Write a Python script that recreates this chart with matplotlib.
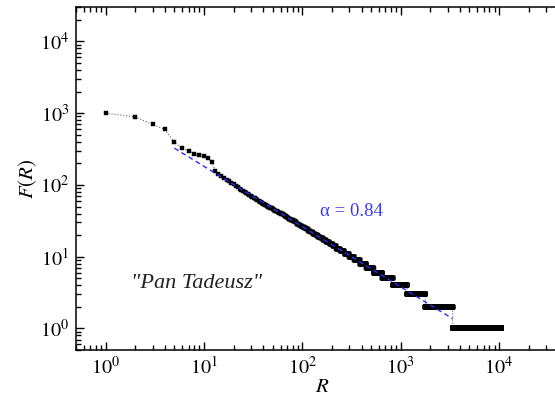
import numpy as np
import matplotlib
matplotlib.use("Agg")
import matplotlib.pyplot as plt
from matplotlib.ticker import LogLocator, FuncFormatter, NullFormatter

plt.rcParams['mathtext.fontset'] = 'stix'
plt.rcParams['font.family'] = ['Liberation Serif', 'DejaVu Serif']

# Word frequencies of the most frequent words, rank 1..60
head_freq = [1000, 889, 697, 594, 392, 324, 300, 269, 261, 253,
             234, 211, 155, 142, 133, 125, 118, 112, 107, 102,
             97, 93, 89, 86, 83, 80, 77, 75, 72, 70,
             68, 66, 65, 63, 61, 60, 58, 57, 56, 55,
             54, 53, 52, 51, 50, 49, 48, 48, 47, 46,
             45, 45, 44, 43, 43, 42, 42, 41, 41, 41]

# Remaining words: frequency level and how many words share it
tail_freq = [40, 39, 38, 37, 36, 35, 34, 33, 32, 31,
             30, 29, 28, 27, 26, 25, 24, 23, 22, 21,
             20, 19, 18, 17, 16, 15, 14, 13, 12, 11,
             10, 9, 8, 7, 6, 5, 4, 3, 2, 1]
tail_count = [2, 2, 1, 3, 2, 2, 3, 3, 2, 4,
              3, 4, 4, 4, 5, 5, 5, 6, 7, 8,
              8, 9, 10, 12, 14, 15, 18, 22, 25, 31,
              38, 48, 62, 83, 120, 180, 330, 620, 1590, 7130]

# Power-law fit F(R) ~ R^-alpha
alpha = 0.84
fit_log_c = 3.10
fit_range = [5, 3370]

freq = np.concatenate([np.array(head_freq, float),
                       np.repeat(np.array(tail_freq, float), tail_count)])
rank = np.arange(1, len(freq) + 1)

W, H = 555, 401
fig = plt.figure(figsize=(W / 100, H / 100), dpi=100)
ax = fig.add_axes([0.137, 0.127, 0.886, 0.855])

ax.plot(rank, freq, linestyle=':', color='#666666', linewidth=0.8,
        marker='s', markersize=2.4, markerfacecolor='black',
        markeredgecolor='black', markeredgewidth=0.3, zorder=2)

rf = np.geomspace(fit_range[0], fit_range[1], 200)
ax.plot(rf, 10 ** fit_log_c * rf ** (-alpha), color='#2b2bff',
        linewidth=1.0, dashes=(3.5, 2.5), zorder=3)

ax.set_xscale('log')
ax.set_yscale('log')
ax.set_xlim(0.5, 5e4)
ax.set_ylim(0.5, 3e4)

def pow10(v, pos):
    e = int(round(np.log10(v)))
    return r'$10^{%d}$' % e

for axis in (ax.xaxis, ax.yaxis):
    axis.set_major_locator(LogLocator(base=10, numticks=20))
    axis.set_minor_locator(LogLocator(base=10, subs=np.arange(2, 10), numticks=20))
    axis.set_major_formatter(FuncFormatter(pow10))
    axis.set_minor_formatter(NullFormatter())

ax.tick_params(which='both', direction='in', top=True, right=True,
               width=1.0, labelsize=14.5, pad=5)
ax.tick_params(which='major', length=6)
ax.tick_params(which='minor', length=3.5)
for s in ax.spines.values():
    s.set_linewidth(1.1)

ax.set_xlabel(r'$R$', fontsize=15, labelpad=-1)
ax.set_ylabel(r'$F(R)$', fontsize=15, labelpad=1)

fig.text(351 / W, 1 - 211 / H, 'α = 0.84', color='#3a3aff', fontsize=13.5,
         ha='center', va='center')
fig.text(197 / W, 1 - 284 / H, '"Pan Tadeusz"', fontsize=16, style='italic',
         color='#222222', ha='center', va='center')

fig.savefig('out.png', dpi=100)
